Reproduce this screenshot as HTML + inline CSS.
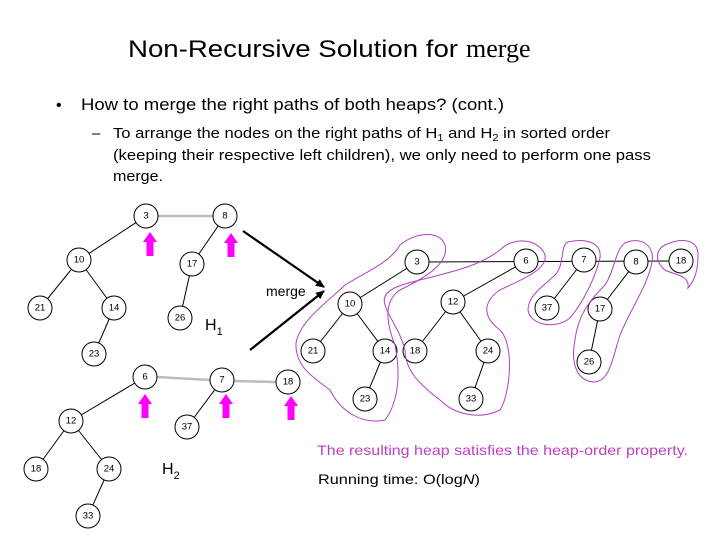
<!DOCTYPE html>
<html><head><meta charset="utf-8"><style>
html,body{margin:0;padding:0;background:#fff;}
svg{display:block;}
text{font-family:"Liberation Sans",sans-serif;}
.n{font-size:9.5px;text-anchor:middle;dominant-baseline:central;}
</style></head><body>
<svg width="720" height="540" viewBox="0 0 720 540" xmlns="http://www.w3.org/2000/svg">
<defs>
<g id="ar"><polygon points="0,-12 7,-2 3.5,-2 3.5,12 -3.5,12 -3.5,-2 -7,-2" fill="#ff00ff"/></g>
<marker id="mk" markerWidth="10" markerHeight="10" refX="8" refY="5" orient="auto" markerUnits="userSpaceOnUse"><path d="M0,1 L9,5 L0,9 Z" fill="#000"/></marker>
</defs>
<text x="128" y="57" font-size="24" textLength="330" lengthAdjust="spacingAndGlyphs">Non-Recursive Solution for</text>
<text x="466" y="57" font-size="26" style="font-family:'Liberation Serif',serif">merge</text>
<text x="56" y="110" font-size="16">•</text>
<text x="81" y="110" font-size="17" textLength="423" lengthAdjust="spacingAndGlyphs">How to merge the right paths of both heaps? (cont.)</text>
<text x="92" y="138" font-size="15">–</text>
<text x="113" y="138" font-size="15" textLength="497" lengthAdjust="spacingAndGlyphs">To arrange the nodes on the right paths of H<tspan font-size="10" dy="3">1</tspan><tspan dy="-3"> and H</tspan><tspan font-size="10" dy="3">2</tspan><tspan dy="-3"> in sorted order</tspan></text>
<text x="113" y="160" font-size="15" textLength="538" lengthAdjust="spacingAndGlyphs">(keeping their respective left children), we only need to perform one pass</text>
<text x="113" y="181" font-size="15" textLength="50" lengthAdjust="spacingAndGlyphs">merge.</text>

<g stroke="#bbb" stroke-width="2.5"><line x1="158" y1="216" x2="213" y2="216"/><line x1="157" y1="377" x2="210" y2="380"/><line x1="234" y1="381" x2="276" y2="382"/></g>
<g stroke="#000" stroke-width="1" fill="none">
<line x1="146" y1="216" x2="79" y2="260"/><line x1="225" y1="216" x2="192" y2="264"/>
<line x1="79" y1="260" x2="40" y2="308"/><line x1="79" y1="260" x2="114" y2="308"/>
<line x1="114" y1="308" x2="94" y2="354"/><line x1="192" y1="264" x2="180" y2="318"/>
<line x1="145" y1="377" x2="71" y2="421"/><line x1="222" y1="380" x2="187" y2="427"/>
<line x1="71" y1="421" x2="36" y2="469"/><line x1="71" y1="421" x2="109" y2="469"/>
<line x1="109" y1="469" x2="88" y2="516"/>
<line x1="417" y1="262" x2="681" y2="261"/>
<line x1="417" y1="262" x2="350" y2="304"/><line x1="350" y1="304" x2="313" y2="351"/><line x1="350" y1="304" x2="385" y2="351"/><line x1="385" y1="351" x2="365" y2="399"/>
<line x1="526" y1="261" x2="453" y2="302"/><line x1="453" y1="302" x2="415" y2="351"/><line x1="453" y1="302" x2="488" y2="351"/><line x1="488" y1="351" x2="471" y2="399"/>
<line x1="584" y1="260" x2="547" y2="308"/><line x1="636" y1="262" x2="600" y2="309"/><line x1="600" y1="309" x2="589" y2="362"/>
</g>
<g stroke="#000" stroke-width="1" fill="#fff">
<circle cx="146" cy="216" r="12"/><circle cx="225" cy="216" r="12"/><circle cx="79" cy="260" r="12"/><circle cx="192" cy="264" r="12"/>
<circle cx="40" cy="308" r="12"/><circle cx="114" cy="308" r="12"/><circle cx="180" cy="318" r="12"/><circle cx="94" cy="354" r="12"/>
<circle cx="145" cy="377" r="12"/><circle cx="222" cy="380" r="12"/><circle cx="288" cy="382" r="12"/>
<circle cx="71" cy="421" r="12"/><circle cx="187" cy="427" r="12"/><circle cx="36" cy="469" r="12"/><circle cx="109" cy="469" r="12"/><circle cx="88" cy="516" r="12"/>
<circle cx="417" cy="262" r="12"/><circle cx="526" cy="261" r="12"/><circle cx="584" cy="260" r="12"/><circle cx="636" cy="262" r="12"/><circle cx="681" cy="261" r="12"/>
<circle cx="350" cy="304" r="12"/><circle cx="453" cy="302" r="12"/><circle cx="547" cy="308" r="12"/><circle cx="600" cy="309" r="12"/>
<circle cx="313" cy="351" r="12"/><circle cx="385" cy="351" r="12"/><circle cx="415" cy="351" r="12"/><circle cx="488" cy="351" r="12"/><circle cx="589" cy="362" r="12"/>
<circle cx="365" cy="399" r="12"/><circle cx="471" cy="399" r="12"/>
</g>
<g>
<text class="n" x="146" y="216">3</text><text class="n" x="225" y="216">8</text><text class="n" x="79" y="260">10</text><text class="n" x="192" y="264">17</text>
<text class="n" x="40" y="308">21</text><text class="n" x="114" y="308">14</text><text class="n" x="180" y="318">26</text><text class="n" x="94" y="354">23</text>
<text class="n" x="145" y="377">6</text><text class="n" x="222" y="380">7</text><text class="n" x="288" y="382">18</text>
<text class="n" x="71" y="421">12</text><text class="n" x="187" y="427">37</text><text class="n" x="36" y="469">18</text><text class="n" x="109" y="469">24</text><text class="n" x="88" y="516">33</text>
<text class="n" x="417" y="262">3</text><text class="n" x="526" y="261">6</text><text class="n" x="584" y="260">7</text><text class="n" x="636" y="262">8</text><text class="n" x="681" y="261">18</text>
<text class="n" x="350" y="304">10</text><text class="n" x="453" y="302">12</text><text class="n" x="547" y="308">37</text><text class="n" x="600" y="309">17</text>
<text class="n" x="313" y="351">21</text><text class="n" x="385" y="351">14</text><text class="n" x="415" y="351">18</text><text class="n" x="488" y="351">24</text><text class="n" x="589" y="362">26</text>
<text class="n" x="365" y="399">23</text><text class="n" x="471" y="399">33</text>
</g>
<use href="#ar" x="150" y="244"/><use href="#ar" x="231" y="245"/><use href="#ar" x="145" y="406"/><use href="#ar" x="226" y="406"/><use href="#ar" x="291" y="408"/>
<g stroke="#000" stroke-width="2.2"><line x1="243" y1="231" x2="324" y2="287" marker-end="url(#mk)"/><line x1="250" y1="350" x2="324" y2="291" marker-end="url(#mk)"/></g>
<text x="266" y="296" font-size="14">merge</text>
<text x="205" y="330" font-size="16">H<tspan font-size="11" dy="5">1</tspan></text>
<text x="162" y="474" font-size="16">H<tspan font-size="11" dy="5">2</tspan></text>
<g stroke="#b040c0" stroke-width="1" fill="none">
<path d="M296,343 C300,320 330,300 345,285 C370,270 390,262 400,245 C415,232 440,230 445,245 C450,265 420,280 400,290 C385,300 385,320 395,345 C400,370 400,400 385,420 C360,425 340,410 330,390 C310,375 295,365 296,343 Z"/>
<path d="M385,305 C380,290 400,285 420,280 C460,270 480,265 500,250 C515,235 540,240 545,255 C548,270 520,280 500,290 C485,300 480,315 500,330 C515,345 510,395 500,410 C480,420 455,415 440,400 C420,385 405,370 405,350 C400,330 390,320 385,305 Z"/>
<path d="M568,242 C585,238 602,242 600,258 C596,275 585,300 570,318 C555,330 530,325 528,310 C528,295 545,285 555,275 C565,265 560,245 568,242 Z"/>
<path d="M625,243 C640,236 655,245 652,262 C648,285 630,310 620,335 C612,360 610,380 595,382 C578,382 570,365 575,340 C578,315 590,300 605,285 C615,270 615,250 625,243 Z"/>
<path d="M665,245 C680,238 698,238 698,255 C698,270 695,280 688,288 C690,275 675,275 665,270 C655,262 655,250 665,245 Z"/>
</g>
<text x="317" y="455" font-size="14" fill="#c040c0" textLength="371" lengthAdjust="spacingAndGlyphs">The resulting heap satisfies the heap-order property.</text>
<text x="318" y="484" font-size="14" textLength="162" lengthAdjust="spacingAndGlyphs">Running time: O(log<tspan font-style="italic">N</tspan>)</text>
</svg>
</body></html>
